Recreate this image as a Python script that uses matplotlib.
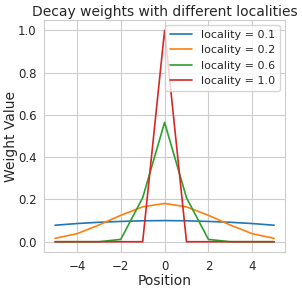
import numpy as np
import matplotlib
matplotlib.use("Agg")
import matplotlib.pyplot as plt
import seaborn as sns

positions = [-5, -4, -3, -2, -1, 0, 1, 2, 3, 4, 5]
localities = [0.1, 0.2, 0.6, 1.0]
weights_01 = [0.078, 0.086, 0.092, 0.096, 0.099, 0.100, 0.099, 0.096, 0.092, 0.086, 0.078]
weights_02 = [0.016, 0.038, 0.079, 0.125, 0.165, 0.181, 0.165, 0.125, 0.079, 0.038, 0.016]
weights_06 = [0.000, 0.000, 0.000, 0.011, 0.208, 0.564, 0.208, 0.011, 0.000, 0.000, 0.000]
weights_10 = [0.000, 0.000, 0.000, 0.000, 0.000, 1.000, 0.000, 0.000, 0.000, 0.000, 0.000]
all_weights = [weights_01, weights_02, weights_06, weights_10]

sns.set_style("whitegrid")
plt.rcParams['font.family'] = ['DejaVu Sans']

fig, ax = plt.subplots(figsize=(3.02, 2.90), dpi=100)
fig.subplots_adjust(left=0.146, right=0.944, bottom=0.130, top=0.932)

for loc, w in zip(localities, all_weights):
    ax.plot(positions, w, label=f"locality = {loc}", linewidth=1.2)

ax.set_ylim(-0.05, 1.05)
ax.set_xlabel("Position", fontsize=10, labelpad=1)
ax.set_ylabel("Weight Value", fontsize=10, labelpad=0)
ax.set_title("Decay weights with different localities", fontsize=10, pad=3)
ax.tick_params(labelsize=8.5, pad=2)
ax.legend(fontsize=8, loc='upper right')

plt.savefig("out.png", dpi=100)
